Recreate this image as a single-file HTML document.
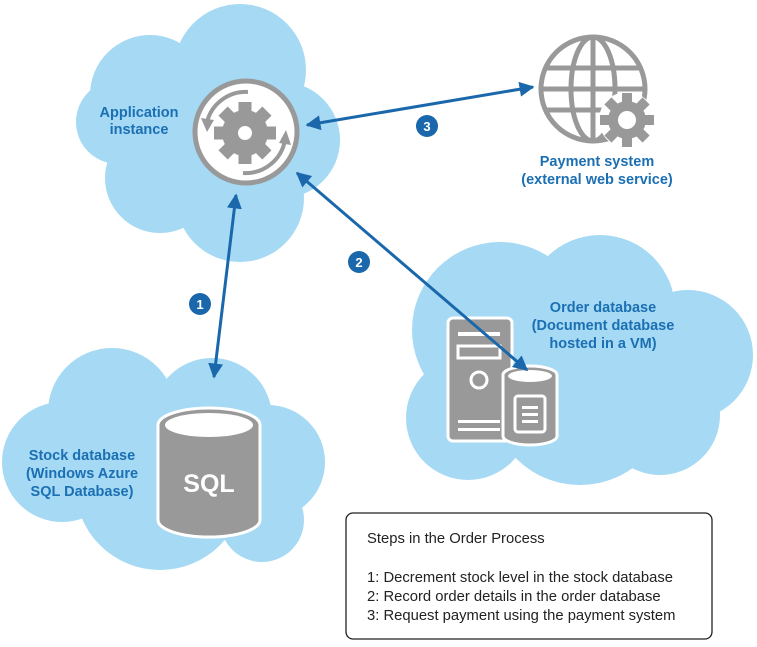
<!DOCTYPE html>
<html><head><meta charset="utf-8"><style>
html,body{margin:0;padding:0;background:#fff;width:757px;height:647px;overflow:hidden}
svg{display:block}
.l{font-family:"Liberation Sans",sans-serif;font-weight:bold;font-size:14.5px;fill:#1b6fb3}
.t{font-family:"Liberation Sans",sans-serif;font-size:14.8px;fill:#222}
</style></head><body>
<svg width="757" height="647" viewBox="0 0 757 647">
<defs>
<marker id="a" viewBox="0 0 10 10" refX="9" refY="5" markerWidth="5" markerHeight="5" orient="auto-start-reverse"><path d="M0,0L10,5L0,10z" fill="#1a68ab"/></marker>
</defs>
<g fill="#a5d9f4">
<circle cx="240" cy="70" r="66"/><circle cx="150" cy="95" r="60"/><circle cx="118" cy="122" r="42"/>
<circle cx="160" cy="178" r="55"/><circle cx="240" cy="198" r="64"/><circle cx="282" cy="140" r="58"/><circle cx="200" cy="130" r="72"/>
<circle cx="500" cy="330" r="88"/><circle cx="600" cy="310" r="75"/><circle cx="688" cy="355" r="65"/><circle cx="580" cy="395" r="90"/>
<circle cx="468" cy="418" r="62"/><circle cx="660" cy="415" r="60"/>
<circle cx="112" cy="412" r="64"/><circle cx="212" cy="418" r="60"/><circle cx="62" cy="462" r="60"/><circle cx="160" cy="485" r="85"/>
<circle cx="268" cy="462" r="57"/><circle cx="262" cy="520" r="42"/>
</g>
<circle cx="246" cy="132" r="51" fill="#fff" stroke="#999" stroke-width="5"/>
<g fill="#999" transform="translate(245,133)">
<circle r="23"/>
<g id="teeth"><rect x="-6.5" y="-31" width="13" height="12"/><rect x="-6.5" y="19" width="13" height="12"/><rect x="-31" y="-6.5" width="12" height="13"/><rect x="19" y="-6.5" width="12" height="13"/></g>
<use href="#teeth" transform="rotate(45)"/>
<circle r="7" fill="#fff"/>
</g>
<path d="M248,92 A40,40 0 0 0 207,122" fill="none" stroke="#999" stroke-width="4"/>
<path d="M201,118 L207,132 L214,120z" fill="#999"/>
<path d="M243,173 A40,40 0 0 0 285,140" fill="none" stroke="#999" stroke-width="4"/>
<path d="M279,143 L286,130 L291,145z" fill="#999"/>
<text class="l" x="139" y="117" text-anchor="middle">Application</text>
<text class="l" x="139" y="134" text-anchor="middle">instance</text>
<g fill="none" stroke="#999" stroke-width="5">
<circle cx="593" cy="89" r="52"/>
<ellipse cx="593" cy="89" rx="22" ry="52"/>
<line x1="593" y1="37" x2="593" y2="141"/>
<line x1="545" y1="68" x2="641" y2="68"/><line x1="541" y1="89" x2="645" y2="89"/><line x1="545" y1="110" x2="641" y2="110"/>
</g>
<g transform="translate(627,120)" fill="#999">
<circle r="28" fill="#fff"/>
<circle r="19"/>
<g id="t2"><rect x="-5" y="-27" width="10" height="10"/><rect x="-5" y="17" width="10" height="10"/><rect x="-27" y="-5" width="10" height="10"/><rect x="17" y="-5" width="10" height="10"/></g>
<use href="#t2" transform="rotate(45)"/>
<circle r="9" fill="#fff"/>
</g>
<text class="l" x="597" y="166" text-anchor="middle">Payment system</text>
<text class="l" x="597" y="184" text-anchor="middle">(external web service)</text>
<rect x="448" y="318" width="64" height="123" rx="5" fill="#999" stroke="#fff" stroke-width="3"/>
<rect x="458" y="332" width="42" height="4" fill="#fff"/>
<rect x="458" y="346" width="42" height="12" fill="none" stroke="#fff" stroke-width="3"/>
<circle cx="479" cy="380" r="8" fill="none" stroke="#fff" stroke-width="3"/>
<rect x="458" y="420" width="42" height="3" fill="#fff"/><rect x="458" y="428" width="42" height="3" fill="#fff"/>
<path d="M503,375 A27,9 0 0 1 557,375 V436 A27,9 0 0 1 503,436 Z" fill="#999" stroke="#fff" stroke-width="3"/>
<ellipse cx="530" cy="376" rx="22" ry="6" fill="#fff"/>
<rect x="515" y="396" width="30" height="36" rx="3" fill="none" stroke="#fff" stroke-width="3"/>
<rect x="522" y="406" width="16" height="3" fill="#fff"/><rect x="522" y="413" width="16" height="3" fill="#fff"/><rect x="522" y="420" width="16" height="3" fill="#fff"/>
<text class="l" x="603" y="312" text-anchor="middle">Order database</text>
<text class="l" x="603" y="330" text-anchor="middle">(Document database</text>
<text class="l" x="603" y="348" text-anchor="middle">hosted in a VM)</text>
<path d="M158,425 A51,17 0 0 1 260,425 V520 A51,17 0 0 1 158,520 Z" fill="#999" stroke="#fff" stroke-width="3"/>
<ellipse cx="209" cy="425" rx="44" ry="12" fill="#fff"/>
<text x="209" y="492" text-anchor="middle" font-family="Liberation Sans,sans-serif" font-weight="bold" font-size="25" fill="#fff">SQL</text>
<text class="l" x="82" y="460" text-anchor="middle">Stock database</text>
<text class="l" x="82" y="478" text-anchor="middle">(Windows Azure</text>
<text class="l" x="82" y="496" text-anchor="middle">SQL Database)</text>
<g stroke="#1a68ab" stroke-width="3" fill="none" marker-start="url(#a)" marker-end="url(#a)">
<line x1="307" y1="125" x2="533" y2="87"/>
<line x1="297" y1="173" x2="527" y2="370"/>
<line x1="236" y1="195" x2="214" y2="377"/>
</g>
<g font-family="Liberation Sans,sans-serif" font-weight="bold" font-size="13" text-anchor="middle">
<circle cx="427" cy="126" r="11" fill="#1a68ab"/><text x="427" y="131" fill="#fff">3</text>
<circle cx="359" cy="262" r="11" fill="#1a68ab"/><text x="359" y="267" fill="#fff">2</text>
<circle cx="200" cy="304" r="11" fill="#1a68ab"/><text x="200" y="309" fill="#fff">1</text>
</g>
<rect x="346" y="513" width="366" height="126" rx="7" fill="#fff" stroke="#222" stroke-width="1.3"/>
<text class="t" x="367" y="543">Steps in the Order Process</text>
<text class="t" x="367" y="582">1: Decrement stock level in the stock database</text>
<text class="t" x="367" y="601">2: Record order details in the order database</text>
<text class="t" x="367" y="620">3: Request payment using the payment system</text>
</svg>
</body></html>
